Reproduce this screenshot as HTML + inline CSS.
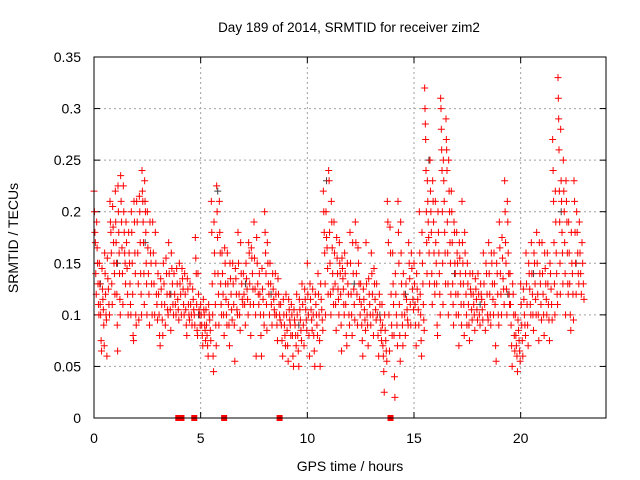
<!DOCTYPE html>
<html><head><meta charset="utf-8"><style>
body{margin:0;background:#fff}
svg{display:block;font-family:"Liberation Sans",sans-serif}
</style></head><body>
<svg id="chart" width="640" height="480" viewBox="0 0 640 480">
<rect width="640" height="480" fill="#fff"/>
<text x="349" y="32" font-size="13.5" text-anchor="middle" fill="#000">Day 189 of 2014, SRMTID for receiver zim2</text>
<text x="350" y="471" font-size="14" text-anchor="middle">GPS time / hours</text>
<text x="18" y="238" font-size="14" text-anchor="middle" transform="rotate(-90 18 238)">SRMTID / TECUs</text>
<g id="grid"></g><g id="axes"></g><g id="gray"></g><g id="marks"></g>
<rect x="94" y="57" width="512" height="361" fill="none" stroke="#000"/>
</svg>
<script>
const xTicks=[0,5,10,15,20];
const yTicks=[0,0.05,0.1,0.15,0.2,0.25,0.3,0.35];
const yTickLabels=["0","0.05","0.1","0.15","0.2","0.25","0.3","0.35"];
const binTimes=[0,0.25,0.5,0.75,1,1.25,1.5,1.75,2,2.25,2.5,2.75,3,3.25,3.5,3.75,4,4.25,4.5,4.75,5,5.25,5.5,5.75,6,6.25,6.5,6.75,7,7.25,7.5,7.75,8,8.25,8.5,8.75,9,9.25,9.5,9.75,10,10.25,10.5,10.75,11,11.25,11.5,11.75,12,12.25,12.5,12.75,13,13.25,13.5,13.75,14,14.25,14.5,14.75,15,15.25,15.5,15.75,16,16.25,16.5,16.75,17,17.25,17.5,17.75,18,18.25,18.5,18.75,19,19.25,19.5,19.75,20,20.25,20.5,20.75,21,21.25,21.5,21.75,22,22.25,22.5,22.75];
const binValues=[
[.22,.20,.18,.17,.14,.12],[.15,.13,.11,.10,.075,.065],[.16,.14,.12,.10,.095,.06],[.21,.19,.18,.16,.13,.11],
[.22,.19,.17,.15,.12,.09,.065],[.235,.21,.19,.165,.14,.11],[.19,.17,.145,.12,.10],[.20,.18,.15,.12,.08,.075],
[.21,.19,.16,.13,.095],[.24,.22,.21,.19,.17,.14,.11],[.20,.165,.14,.12,.09],[.19,.16,.13,.10],
[.14,.12,.10,.08,.07],[.15,.13,.11,.09],[.17,.14,.12,.105,.085],[.14,.12,.11,.10],
[.15,.13,.12,.10],[.14,.12,.105,.09,.08],[.13,.11,.10,.09],[.175,.155,.14,.11,.085,.08],
[.11,.10,.09,.08,.07],[.105,.09,.08,.07,.06],[.21,.18,.13,.10,.06,.045],[.225,.20,.175,.14,.12,.09],
[.16,.14,.12,.10,.08],[.16,.13,.11,.09,.07],[.15,.13,.11,.09,.055],[.18,.15,.12,.10,.085],
[.14,.12,.11,.09],[.17,.16,.13,.11,.08],[.19,.155,.125,.10,.06],[.14,.12,.10,.08,.06],
[.20,.18,.16,.14,.11,.085],[.15,.13,.11,.09],[.14,.12,.10,.09,.075],[.11,.09,.075,.06],
[.12,.10,.085,.07,.055],[.11,.10,.08,.06,.05],[.12,.10,.08,.065,.05],[.13,.11,.09,.07],
[.15,.12,.10,.08,.06],[.125,.10,.08,.065,.05],[.14,.12,.10,.075,.05],[.22,.20,.18,.16,.13,.10],
[.24,.23,.18,.15,.12,.10],[.19,.16,.13,.11,.085],[.17,.15,.14,.12,.09,.065],[.16,.14,.11,.08,.07],
[.18,.15,.12,.10,.08],[.19,.17,.14,.12,.09],[.13,.11,.09,.075,.06],[.17,.13,.10,.09,.07],
[.16,.14,.12,.10,.08],[.13,.10,.08,.06],[.11,.09,.07,.06,.045,.025],[.21,.19,.17,.10,.065],
[.16,.13,.11,.08,.04,.02],[.21,.18,.15,.11,.08,.055],[.14,.12,.10,.08],[.17,.15,.135,.11,.09],
[.15,.13,.11,.09,.07],[.20,.16,.12,.10,.075,.06],[.32,.30,.285,.27,.24,.20,.17,.14],[.25,.22,.20,.18,.14,.11],
[.21,.17,.15,.13,.09,.08],[.31,.30,.28,.26,.24,.20,.15,.11],[.29,.27,.26,.24,.19,.16,.13,.10],[.22,.20,.17,.13,.11,.09],
[.18,.16,.15,.12,.10,.07],[.21,.17,.15,.13,.11,.08],[.15,.13,.11,.09,.075],[.14,.12,.11,.10,.085],
[.14,.12,.10,.09],[.16,.13,.11,.085],[.17,.14,.12,.10,.09],[.16,.13,.11,.07,.055],
[.19,.165,.14,.12,.10],[.23,.20,.17,.15,.125,.10],[.14,.11,.09,.07,.05],[.10,.08,.07,.06,.045],
[.13,.11,.09,.075,.06],[.16,.13,.11,.09,.07],[.17,.14,.12,.10,.085],[.18,.15,.12,.10,.075],
[.17,.14,.12,.10,.08],[.16,.13,.11,.095,.075],[.27,.24,.21,.17,.13,.10],[.33,.31,.29,.26,.22,.19,.15,.12],
[.25,.22,.20,.17,.14,.10],[.19,.16,.13,.10,.085],[.23,.21,.18,.15,.12],[.19,.16,.14,.12]];
const binValuesB=[
[.19,.165,.15,.13,.11,.10],[.145,.125,.115,.105,.09,.07],[.155,.135,.125,.11,.10],[.205,.185,.17,.15,.14,.12],
[.225,.20,.18,.16,.14,.115,.10],[.225,.20,.18,.16,.15,.13],[.18,.16,.15,.13,.11,.10],[.21,.19,.16,.14,.10,.09],
[.215,.20,.17,.14,.12,.10],[.23,.21,.20,.18,.15,.13,.10],[.19,.16,.15,.13,.10],[.18,.15,.12,.11,.095],
[.135,.125,.11,.095,.08],[.155,.14,.12,.105,.10],[.16,.145,.13,.11,.10],[.145,.13,.115,.105,.095],
[.145,.135,.125,.11,.10],[.135,.125,.11,.10,.095],[.125,.115,.105,.10,.09],[.14,.12,.105,.10,.09],
[.115,.105,.10,.09,.085,.075],[.11,.10,.095,.085,.075],[.19,.16,.14,.11,.09,.07],[.21,.18,.16,.13,.11,.10],
[.165,.15,.13,.115,.10,.09],[.15,.135,.12,.105,.095],[.145,.135,.12,.105,.10],[.17,.14,.13,.115,.11],
[.15,.135,.125,.115,.10],[.165,.155,.14,.125,.11],[.175,.15,.13,.12,.11],[.145,.125,.115,.10,.09],
[.17,.15,.13,.12,.10],[.14,.125,.115,.105,.10],[.135,.12,.11,.10,.095],[.115,.10,.09,.08,.07],
[.115,.105,.095,.09,.08],[.105,.095,.09,.08,.07],[.115,.105,.095,.085,.075],[.125,.115,.105,.095,.085],
[.13,.115,.105,.095,.085],[.12,.11,.10,.09,.08],[.13,.115,.105,.095,.085],[.20,.175,.165,.145,.12],
[.21,.19,.165,.14,.125,.11],[.175,.155,.14,.125,.115,.10],[.155,.145,.135,.125,.11,.10],[.15,.13,.12,.10,.09],
[.17,.14,.125,.11,.095],[.165,.15,.13,.115,.10],[.125,.115,.105,.095,.085],[.135,.12,.11,.10,.09],
[.145,.13,.115,.105,.095],[.12,.11,.095,.085,.075],[.10,.085,.075,.065,.055],[.185,.16,.12,.09,.08],
[.14,.12,.10,.09,.07],[.19,.16,.13,.10,.09,.07],[.13,.115,.105,.095,.09],[.16,.145,.125,.115,.105],
[.14,.125,.115,.105,.09],[.18,.15,.13,.11,.095,.085],[.23,.21,.19,.175,.16,.13],[.23,.21,.19,.16,.13,.12],
[.20,.18,.16,.14,.12,.10],[.25,.23,.21,.18,.16,.13],[.25,.22,.20,.17,.15,.12],[.19,.18,.15,.14,.12,.10],
[.17,.155,.14,.13,.11,.09],[.18,.16,.14,.12,.10,.09],[.14,.125,.12,.105,.095],[.135,.125,.115,.105,.095],
[.13,.12,.115,.105,.095],[.15,.14,.12,.10,.095],[.16,.15,.13,.115,.10],[.15,.14,.12,.10,.09],
[.175,.155,.135,.125,.11],[.21,.19,.16,.14,.12,.11],[.13,.12,.10,.08,.065],[.095,.085,.075,.065,.055],
[.125,.115,.10,.09,.08],[.15,.14,.125,.11,.10],[.16,.15,.13,.115,.10],[.17,.14,.13,.11,.095],
[.16,.145,.13,.115,.10],[.15,.14,.125,.11,.095],[.22,.19,.16,.14,.12,.11],[.28,.23,.21,.18,.16,.13],
[.23,.21,.19,.16,.13,.12],[.18,.15,.14,.12,.095],[.20,.18,.16,.14,.13],[.17,.15,.13,.115]];
const grayTimes=[0.3,1.1,2.4,3.6,4.9,5.8,7.1,8.3,9.6,10.9,12.2,13.4,14.6,15.7,16.9,18.1,19.4,20.6,21.9,22.6];
const grayValues=[.13,.15,.17,.12,.10,.22,.13,.12,.09,.23,.13,.10,.12,.25,.14,.11,.12,.14,.2,.15];
const zeroTimes=[3.95,4.1,4.7,6.1,8.7,13.9];

const NS="http://www.w3.org/2000/svg";
const X0=94,X1=606,Y0=418,Y1=57;
const xs=t=>X0+(t/24)*(X1-X0);
const ys=v=>Y0-(v/0.35)*(Y0-Y1);
function mk(tag,attrs,parent){const e=document.createElementNS(NS,tag);for(const k in attrs)e.setAttribute(k,attrs[k]);parent.appendChild(e);return e;}
const grid=document.getElementById('grid'),axes=document.getElementById('axes'),marks=document.getElementById('marks'),gray=document.getElementById('gray');
xTicks.forEach(t=>{
  const x=xs(t);
  if(t>0){const g=mk('line',{x1:x,x2:x,y1:Y1,y2:Y0,stroke:'#a0a0a0','stroke-dasharray':'2,3'},grid);
  
  }
  mk('line',{x1:x,x2:x,y1:Y0,y2:Y0-6,stroke:'#000'},axes);
  mk('line',{x1:x,x2:x,y1:Y1,y2:Y1+6,stroke:'#000'},axes);
  const l=mk('text',{x:x,y:Y0+25,'font-size':14,'text-anchor':'middle'},axes);l.textContent=t;
  
  
});
yTicks.forEach((v,i)=>{
  const y=ys(v);
  if(v>0&&v<0.35){const g=mk('line',{x1:X0,x2:X1,y1:y,y2:y,stroke:'#a0a0a0','stroke-dasharray':'2,3'},grid);
  
  }
  mk('line',{x1:X0,x2:X0+6,y1:y,y2:y,stroke:'#000'},axes);
  mk('line',{x1:X1,x2:X1-6,y1:y,y2:y,stroke:'#000'},axes);
  const l=mk('text',{x:X0-13,y:y+5,'font-size':14,'text-anchor':'end'},axes);l.textContent=yTickLabels[i];
  
  
});
function plus(x,y,col,parent,name){
  const p=mk('path',{d:`M${x-3.5},${y}H${x+3.5}M${x},${y-3.5}V${y+3.5}`,stroke:col,'stroke-width':1,fill:'none'},parent);
  
  
}
grayTimes.forEach((t,i)=>plus(xs(t),ys(grayValues[i]),'#404040',gray,'gray-point'));
binTimes.forEach((t,b)=>{
  const a=binValues[b];
  a.forEach((v,i)=>plus(xs(t+i*0.125/a.length),ys(v),'#ff0000',marks,'srmtid-point'));
  const c=binValuesB[b];
  c.forEach((v,i)=>plus(xs(t+0.125+i*0.125/c.length),ys(v),'#ff0000',marks,'srmtid-point'));
});
zeroTimes.forEach(t=>{
  const r=mk('rect',{x:xs(t)-3,y:Y0-3,width:6,height:6,fill:'#ff0000'},marks);
  
  
});
</script>
</body></html>
